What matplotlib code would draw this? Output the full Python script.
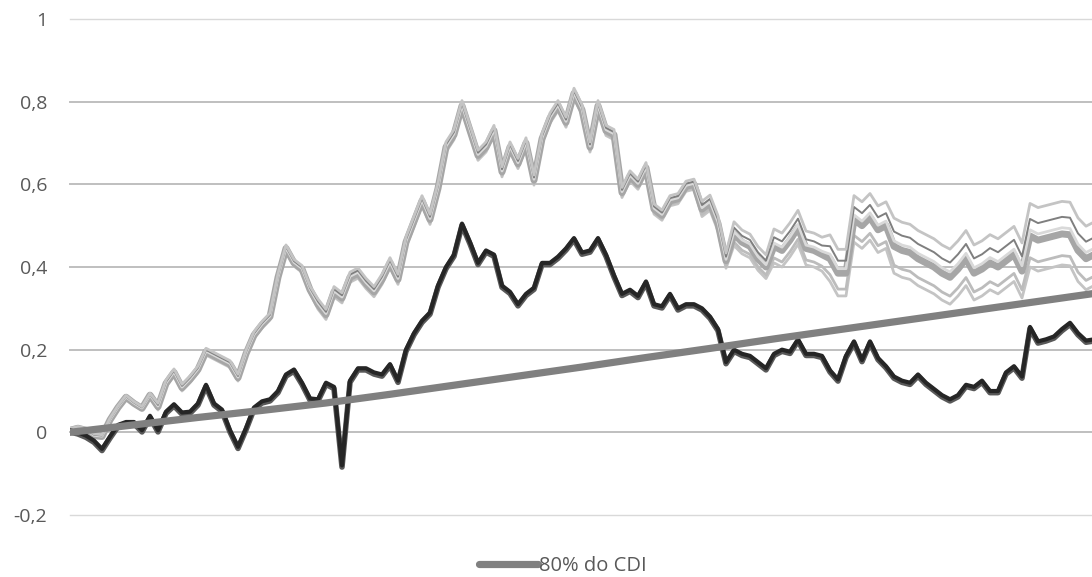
"""
Retorno acumulado: carteiras vs 80% do CDI
Recria o gráfico de linhas (estilo Excel) com eixo em vírgula decimal.
"""

import numpy as np
import matplotlib.pyplot as plt
import matplotlib.patheffects as pe

plt.rcParams["font.family"] = ["Open Sans", "DejaVu Sans"]

# Dados, uma amostra a cada ~8 px do eixo x original
bundle_mid = [
    0.005, 0.010, 0.005, -0.008, -0.010, 0.030, 0.060, 0.085, 0.070, 0.058,
    0.090, 0.062, 0.118, 0.145, 0.108, 0.128, 0.152, 0.195, 0.185, 0.175,
    0.165, 0.132, 0.190, 0.235, 0.260, 0.280, 0.375, 0.445, 0.410, 0.395,
    0.345, 0.310, 0.285, 0.340, 0.325, 0.375, 0.385, 0.360, 0.340, 0.370,
    0.410, 0.370, 0.460, 0.510, 0.560, 0.515, 0.590, 0.690, 0.720, 0.790,
    0.730, 0.670, 0.690, 0.730, 0.630, 0.690, 0.650, 0.700, 0.610, 0.710,
    0.760, 0.790, 0.750, 0.820, 0.780, 0.690, 0.790, 0.730, 0.720, 0.580,
    0.620, 0.600, 0.640, 0.540, 0.525, 0.560, 0.565, 0.595, 0.600, 0.540,
    0.555, 0.505, 0.415, 0.480, 0.460, 0.450, 0.420, 0.400, 0.450, 0.440,
    0.465, 0.495, 0.445, 0.440, 0.430, 0.420, 0.385, 0.385, 0.515, 0.500,
    0.520, 0.490, 0.500, 0.450, 0.440, 0.435, 0.420, 0.410, 0.400, 0.385,
    0.375, 0.395, 0.420, 0.385, 0.395, 0.410, 0.400, 0.415, 0.430, 0.390,
    0.475, 0.465, 0.470, 0.475, 0.480, 0.478, 0.440, 0.420, 0.430,
]

# meia-largura do feixe de linhas claras (abre a partir da metade do período)
bundle_spread = (
    [0.004] * 11 + [0.008] * 20 + [0.012] * 48 + [0.018] * 4 + [0.028] * 5
    + [0.040] * 7 + [0.055] * 8 + [0.065] * 17 + [0.075] * 9
)

dark_series = [
    0.005, 0.000, -0.008, -0.020, -0.040, -0.010, 0.018, 0.025, 0.025, 0.005,
    0.040, 0.005, 0.050, 0.068, 0.048, 0.050, 0.070, 0.115, 0.070, 0.055,
    0.005, -0.035, 0.010, 0.060, 0.075, 0.080, 0.100, 0.140, 0.152, 0.120,
    0.082, 0.080, 0.120, 0.110, -0.080, 0.125, 0.155, 0.155, 0.145, 0.140,
    0.165, 0.125, 0.200, 0.240, 0.270, 0.290, 0.355, 0.400, 0.430, 0.505,
    0.460, 0.410, 0.440, 0.430, 0.355, 0.340, 0.310, 0.335, 0.350, 0.410,
    0.410, 0.425, 0.445, 0.470, 0.435, 0.440, 0.470, 0.430, 0.380, 0.335,
    0.345, 0.330, 0.365, 0.310, 0.305, 0.335, 0.300, 0.310, 0.310, 0.300,
    0.280, 0.250, 0.170, 0.200, 0.190, 0.185, 0.170, 0.155, 0.190, 0.200,
    0.195, 0.225, 0.190, 0.190, 0.185, 0.150, 0.128, 0.185, 0.220, 0.175,
    0.220, 0.180, 0.160, 0.135, 0.125, 0.120, 0.140, 0.120, 0.105, 0.090,
    0.080, 0.090, 0.115, 0.110, 0.125, 0.100, 0.100, 0.145, 0.160, 0.135,
    0.255, 0.220, 0.225, 0.232, 0.250, 0.265, 0.240, 0.222, 0.225,
]

cdi_idx = [0, 8, 16, 24, 32, 40, 48, 56, 64, 72, 80, 88, 96, 104, 112, 120, 128]
cdi_80 = [0.000, 0.018, 0.036, 0.053, 0.071, 0.092, 0.114, 0.136, 0.158,
          0.181, 0.203, 0.226, 0.248, 0.270, 0.292, 0.314, 0.336]

y_ticks = [-0.2, 0, 0.2, 0.4, 0.6, 0.8, 1]
legend_label = "80% do CDI"

# posição relativa de cada linha do feixe (em unidades de bundle_spread)
bundle_members = [
    (-1.0, "#c4c4c4", 2.0),
    (-0.7, "#bcbcbc", 2.0),
    (0.0, "#a6a6a6", 5.0),
    (0.2, "#d9d9d9", 2.0),
    (0.55, "#7f7f7f", 1.4),
    (1.05, "#c4c4c4", 2.0),
]


def main():
    W, H = 1092, 577
    fig = plt.figure(figsize=(W / 100, H / 100), dpi=100)
    left, right = 70, 1092
    top, bottom = 19, 515
    ax = fig.add_axes([left / W, 1 - bottom / H, (right - left) / W, (bottom - top) / H])

    x = np.arange(len(bundle_mid))
    mid = np.array(bundle_mid)
    spread = np.array(bundle_spread)

    for pos, color, lw in bundle_members:
        ax.plot(x, mid + pos * spread, color=color, lw=lw, zorder=2,
                solid_joinstyle="round", solid_capstyle="round")

    ax.plot(x, dark_series, color="#262626", lw=3.0, zorder=3,
            solid_joinstyle="round",
            path_effects=[pe.Stroke(linewidth=4.0, foreground="#595959", offset=(0, -1.2)),
                          pe.Normal()])

    cdi_line, = ax.plot(cdi_idx, cdi_80, color="#808080", lw=5.2, zorder=4,
                        solid_capstyle="round", label=legend_label)

    # grade horizontal
    for t in y_ticks:
        edge = t in (y_ticks[0], y_ticks[-1])
        ax.axhline(t, color="#d9d9d9" if edge else "#bfbfbf",
                   lw=1.0 if edge else 1.4, zorder=0, clip_on=False)

    ax.set_xlim(0, (right - left) / 8)
    ax.set_ylim(-0.2, 1)
    ax.set_yticks(y_ticks)
    ax.set_yticklabels([f"{t:g}".replace(".", ",") for t in y_ticks])
    ax.tick_params(axis="y", length=0, pad=16.5, labelsize=14, labelcolor="#595959")
    ax.set_xticks([])
    for s in ax.spines.values():
        s.set_visible(False)

    fig.legend(handles=[cdi_line], loc="center", bbox_to_anchor=(563 / W, 1 - 566 / H),
               frameon=False, fontsize=14.5, handlelength=2.9, handletextpad=0.05,
               labelcolor="#595959")

    fig.savefig("out.png", dpi=100, facecolor="white")
    plt.close(fig)


if __name__ == "__main__":
    main()
